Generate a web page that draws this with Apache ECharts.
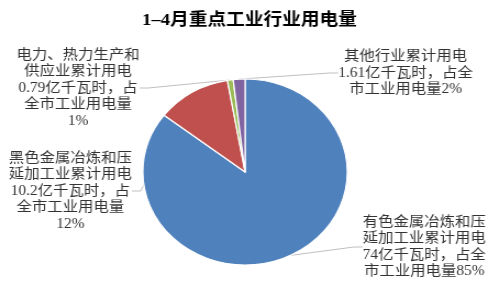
<!DOCTYPE html>
<html>
<head>
<meta charset="utf-8">
<script src="https://cdn.jsdelivr.net/npm/echarts@6/dist/echarts.min.js"></script>
<style>
html,body{margin:0;padding:0;background:#fff;overflow:hidden;}
#wrap{width:499px;height:286px;overflow:hidden;}
#chart{width:454px;height:286px;transform:scaleX(1.099);transform-origin:0 0;}
</style>
</head>
<body>
<div id="wrap"><div id="chart"></div></div>
<script>
var title = '1–4月重点工业行业用电量';
var names = ['有色金属冶炼和压延加工业', '黑色金属冶炼和压延加工业', '电力、热力生产和供应业', '其他行业'];
var values = [74, 10.2, 0.79, 1.61];
var shares = ['85%', '12%', '1%', '2%'];
var labelTexts = [
  '有色金属冶炼和压\n延加工业累计用电\n74亿千瓦时，占全\n市工业用电量85%',
  '黑色金属冶炼和压\n延加工业累计用电\n10.2亿千瓦时，占\n全市工业用电量\n12%',
  '电力、热力生产和\n供应业累计用电\n0.79亿千瓦时，占\n全市工业用电量\n1%',
  '其他行业累计用电\n1.61亿千瓦时，占全\n市工业用电量2%'
];
var colors = ['#4F81BD', '#C0504D', '#9BBB59', '#8064A2'];
var labelPos = [[386, 247], [64, 191], [71, 88], [369, 73]];

var font = "'Liberation Serif', 'Noto Sans CJK SC', serif";
var chart = echarts.init(document.getElementById('chart'));
chart.setOption({
  animation: false,
  title: {
    text: title,
    left: 'center',
    top: 7,
    textStyle: {fontFamily: font, fontSize: 17, fontWeight: 'bold', color: '#000'}
  },
  series: [{
    type: 'pie',
    center: [223, 172],
    radius: 93,
    startAngle: 90,
    clockwise: true,
    data: names.map(function (n, i) {
      return {name: n, value: values[i], itemStyle: {color: colors[i]}};
    }),
    itemStyle: {borderColor: '#fff', borderWidth: 1.2},
    label: {
      show: true,
      formatter: function (p) { return labelTexts[p.dataIndex]; },
      fontFamily: font,
      fontSize: 14,
      lineHeight: 16.5,
      color: '#333',
      align: 'center',
      overflow: 'none'
    },
    labelLine: {show: true, length: 8, length2: 8, lineStyle: {color: '#BFBFBF', width: 1}},
    labelLayout: function (p) {
      var pos = labelPos[p.dataIndex];
      return {x: pos[0], y: pos[1], align: 'center', verticalAlign: 'middle'};
    }
  }]
});
</script>
</body>
</html>
